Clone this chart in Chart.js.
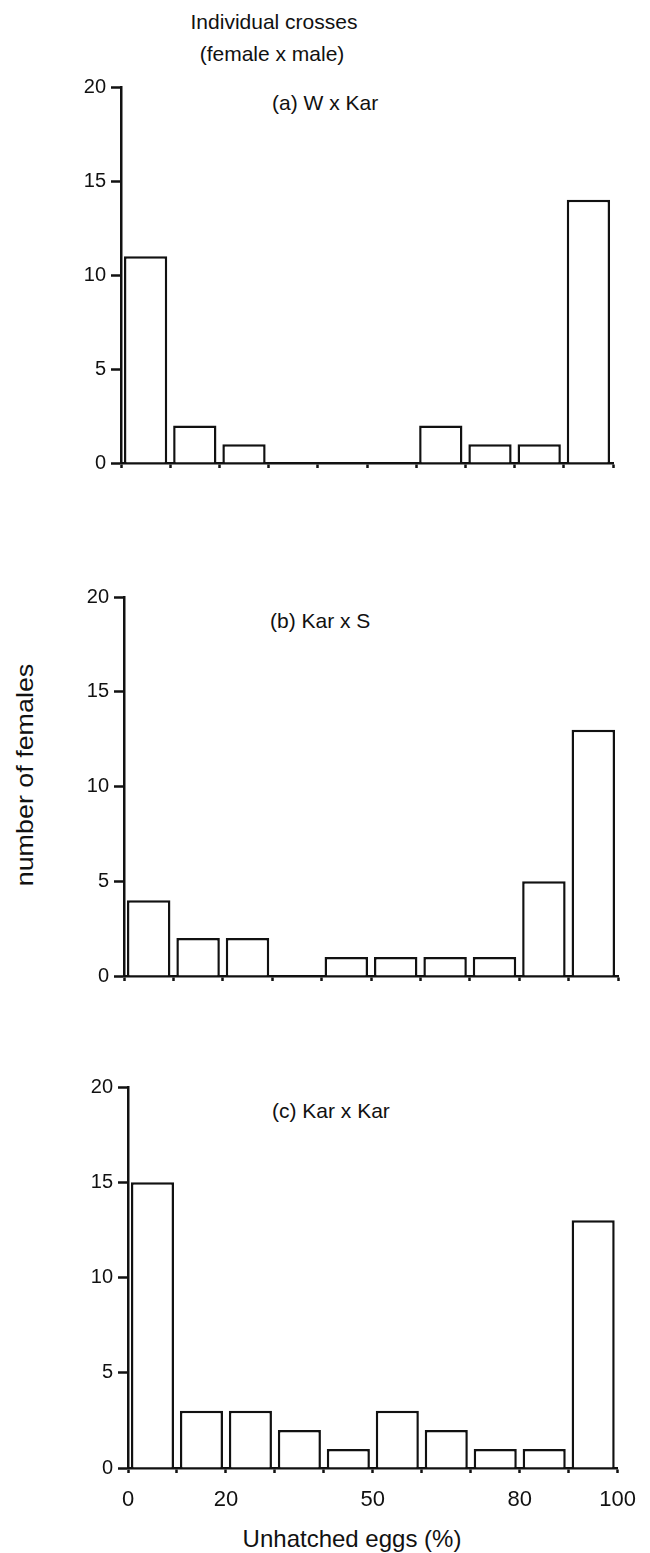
<!DOCTYPE html>
<html>
<head>
<meta charset="utf-8">
<script src="https://cdn.jsdelivr.net/npm/chart.js@4.4.0/dist/chart.umd.min.js"></script>
<style>
  html, body { margin: 0; padding: 0; background: #fff; }
  body { width: 650px; height: 1553px; position: relative; overflow: hidden;
         font-family: 'Liberation Sans', Arial, sans-serif; color: #111; }
  .txt { position: absolute; white-space: nowrap; line-height: 1; }
  .painel { position: absolute; left: 0; width: 650px; }
</style>
</head>
<body>

<div class="txt" style="left:274px; top:11px; font-size:21px; transform:translateX(-50%)">Individual crosses</div>
<div class="txt" style="left:272px; top:43px; font-size:21px; transform:translateX(-50%)">(female x male)</div>

<div class="txt" style="left:272px; top:92px; font-size:21px">(a) W x Kar</div>
<div class="txt" style="left:270px; top:610px; font-size:21px">(b) Kar x S</div>
<div class="txt" style="left:272px; top:1100px; font-size:21px">(c) Kar x Kar</div>

<div class="txt" style="left:25px; top:775px; font-size:24px; transform:translate(-50%,-50%) rotate(-90deg) scaleX(1.12)">number of females</div>
<div class="txt" style="left:352px; top:1527px; font-size:24px; transform:translateX(-50%)">Unhatched eggs (%)</div>

<div class="painel" style="top:70px; height:433px"><canvas id="graficoA"></canvas></div>
<div class="painel" style="top:580px; height:436px"><canvas id="graficoB"></canvas></div>
<div class="painel" style="top:1070px; height:448px"><canvas id="graficoC"></canvas></div>

<script>
// classes de ovos nao eclodidos (centro de cada intervalo de 10%)
const classes = [5, 15, 25, 35, 45, 55, 65, 75, 85, 95];

// numero de femeas em cada classe
const femeasA = [11, 2, 1, 0, 0, 0, 2, 1, 1, 14];  // W x Kar
const femeasB = [4, 2, 2, 0, 1, 1, 1, 1, 5, 13];   // Kar x S
const femeasC = [15, 3, 3, 2, 1, 3, 2, 1, 1, 13];  // Kar x Kar

// rotulos do eixo x (so no ultimo painel)
const rotulosX = [0, 20, 50, 80, 100];

const PRETO = '#111';
const FONTE = "'Liberation Sans', Arial, sans-serif";

function criarGrafico(canvasId, valores, cfg) {
    const ctx = document.getElementById(canvasId).getContext('2d');
    new Chart(ctx, {
        type: 'bar',
        data: {
            datasets: [{
                data: classes.map((c, i) => ({ x: c, y: valores[i] })),
                backgroundColor: '#fff',
                borderColor: PRETO,
                borderWidth: 2.5,
                barPercentage: 0.88,
                categoryPercentage: 1
            }]
        },
        options: {
            responsive: true,
            maintainAspectRatio: false,
            animation: false,
            layout: { padding: { top: 14, right: cfg.direita, bottom: 0, left: 0 } },
            plugins: { legend: { display: false }, tooltip: { enabled: false } },
            scales: {
                x: {
                    type: 'linear',
                    min: 0, max: 100,
                    offset: false,
                    afterFit: s => { s.height = cfg.alturaX; },
                    border: { display: true, color: PRETO, width: 2.5 },
                    grid: { offset: false, drawOnChartArea: false, drawTicks: true, tickLength: 5, tickWidth: 2.5, tickColor: PRETO },
                    ticks: {
                        stepSize: 10,
                        autoSkip: false,
                        maxRotation: 0,
                        padding: 14,
                        color: PRETO,
                        font: { family: FONTE, size: 22 },
                        callback: v => (cfg.comRotulos && rotulosX.includes(v)) ? String(v) : ''
                    }
                },
                y: {
                    min: 0, max: 20,
                    afterFit: s => { s.width = cfg.esquerda; },
                    border: { display: true, color: PRETO, width: 2.5 },
                    grid: { drawOnChartArea: false, drawTicks: true, tickLength: 10, tickWidth: 2.5, tickColor: PRETO },
                    ticks: {
                        stepSize: 5,
                        padding: 5,
                        color: PRETO,
                        font: { family: FONTE, size: 20 }
                    }
                }
            }
        }
    });
}

criarGrafico('graficoA', femeasA, { esquerda: 121, direita: 37, alturaX: 40, comRotulos: false });
criarGrafico('graficoB', femeasB, { esquerda: 124, direita: 32, alturaX: 40, comRotulos: false });
criarGrafico('graficoC', femeasC, { esquerda: 128, direita: 27, alturaX: 50, comRotulos: true });
</script>
</body>
</html>
